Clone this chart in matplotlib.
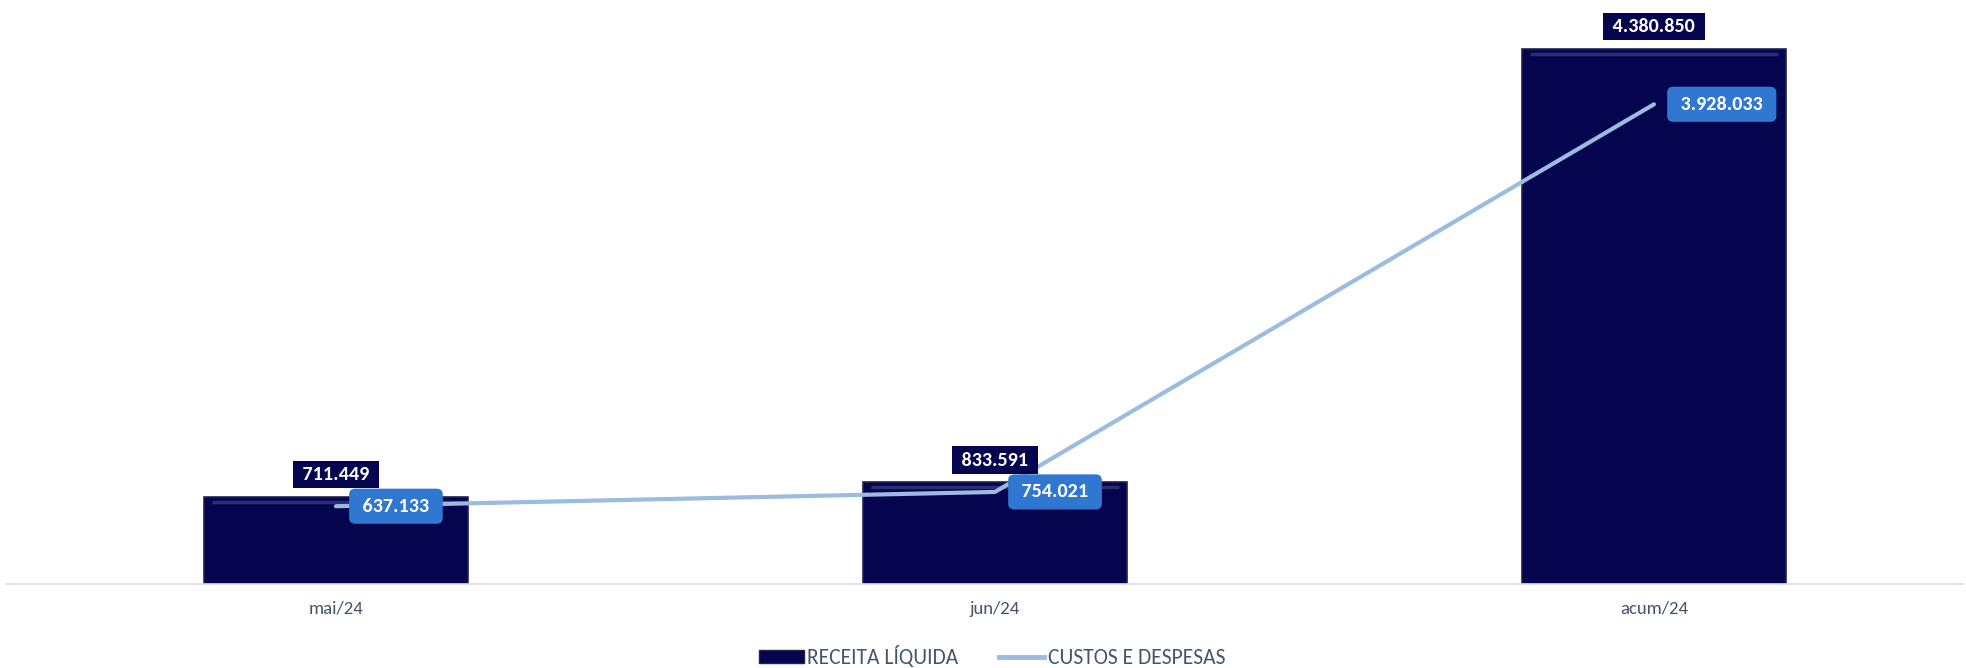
import matplotlib
matplotlib.use('Agg')
import matplotlib.pyplot as plt
from matplotlib.patches import Patch
from matplotlib.lines import Line2D
from matplotlib.transforms import offset_copy

plt.rcParams['font.family'] = ['Carlito', 'Lato', 'DejaVu Sans']

# Data
categories = ['mai/24', 'jun/24', 'acum/24']
receita = [711449, 833591, 4380850]
custos = [637133, 754021, 3928033]

bar_color = '#04044F'
line_color = '#9BBBE1'
label_blue = '#2F77D1'
text_grey = '#44546A'


def fmt(v):
    return f'{v:,}'.replace(',', '.')


fig = plt.figure(figsize=(19.66, 6.68), dpi=100)
ax = fig.add_axes([0.0033, 0.1257, 0.9952, 0.8743])

x = list(range(len(categories)))
bar_w = 0.4
ax.bar(x, receita, width=bar_w, color=bar_color, edgecolor='#23234F', linewidth=1.2, zorder=2)

# soft bevel highlight along the top of each bar
hl = offset_copy(ax.transData, fig=fig, y=-5, units='dots')
for i, v in zip(x, receita):
    ax.plot([i - bar_w / 2 + 0.012, i + bar_w / 2 - 0.012], [v, v], color='#2C2C72',
            lw=2.5, transform=hl, zorder=3, solid_capstyle='butt')

ax.plot(x, custos, color=line_color, lw=3, solid_capstyle='round', zorder=4)

# bar value labels
for i, v in zip(x, receita):
    ax.annotate(' ' + fmt(v) + ' ', xy=(i, v), xytext=(0, 16), textcoords='offset points',
                ha='center', va='center', color='white', fontsize=14.5, fontweight='bold',
                bbox=dict(boxstyle='square,pad=0.25', fc=bar_color, ec='none'), zorder=5)

# line value labels
for i, v in zip(x, custos):
    ax.annotate(' ' + fmt(v) + ' ', xy=(i, v), xytext=(16, 0), textcoords='offset points',
                ha='left', va='center', color='white', fontsize=14.5, fontweight='bold',
                bbox=dict(boxstyle='round,pad=0.45,rounding_size=0.3', fc=label_blue, ec='none'),
                zorder=6)

ax.set_xlim(-0.5, 2.469)
ax.set_ylim(0, 4.782e6)
ax.set_xticks(x)
ax.set_xticklabels(categories, color=text_grey, fontsize=13.5)
ax.tick_params(axis='x', length=0, pad=12)
ax.set_yticks([])
for s in ['top', 'right', 'left']:
    ax.spines[s].set_visible(False)
ax.spines['bottom'].set_color('#D9DEE8')
ax.spines['bottom'].set_linewidth(1.2)

handles = [Patch(facecolor=bar_color, edgecolor='#23234F', label='RECEITA LÍQUIDA'),
           Line2D([0], [0], color=line_color, lw=3.5, label='CUSTOS E DESPESAS')]
leg = fig.legend(handles=handles, loc='center', bbox_to_anchor=(0.5045, 1 - 657 / 668), ncol=2,
                 frameon=False, fontsize=15.5, handlelength=2.1, handleheight=0.55,
                 handletextpad=0.15, columnspacing=1.9)
for t in leg.get_texts():
    t.set_color(text_grey)

fig.savefig('out.png', dpi=100)
